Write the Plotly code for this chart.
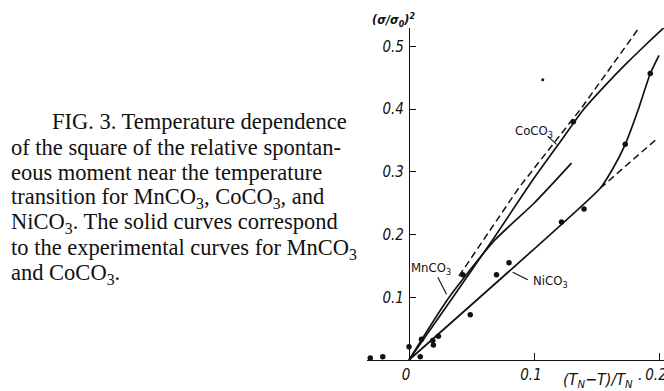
import plotly.graph_objects as go

# ---------------- data ----------------
mn_x = [0.0, 0.031, 0.068, 0.100, 0.130]
mn_y = [0.0, 0.097, 0.190, 0.250, 0.314]

co_x = [0.0, 0.034, 0.067, 0.099, 0.121, 0.139, 0.157, 0.174, 0.190, 0.205]
co_y = [0.0, 0.097, 0.192, 0.287, 0.348, 0.398, 0.438, 0.473, 0.504, 0.532]

co_dash_x = [0.040, 0.088, 0.138, 0.183]
co_dash_y = [0.134, 0.275, 0.402, 0.527]

ni_x = [0.0, 0.153, 0.163, 0.173, 0.183, 0.193, 0.200]
ni_y = [0.0, 0.274, 0.305, 0.344, 0.397, 0.457, 0.486]

ni_dash_x = [0.153, 0.199]
ni_dash_y = [0.274, 0.354]

pts_x = [-0.031, -0.021, 0.0, 0.009, 0.010, 0.019, 0.0195, 0.0235, 0.043, 0.049,
         0.070, 0.080, 0.122, 0.140, 0.1315, 0.173, 0.193]
pts_y = [0.003, 0.005, 0.021, 0.005, 0.033, 0.031, 0.024, 0.038, 0.136, 0.072,
         0.136, 0.155, 0.220, 0.241, 0.380, 0.344, 0.457]

speck_x = [0.107]
speck_y = [0.447]

x_ticks = [0, 0.1, 0.2]
x_ticktext = ["0", "0.1", "0.2"]
y_ticks = [0.1, 0.2, 0.3, 0.4, 0.5]
y_ticktext = ["0.1", "0.2", "0.3", "0.4", "0.5"]

caption = [
    "FIG. 3. Temperature dependence",
    "of the square of the relative spontan-",
    "eous moment near the temperature",
    "transition for MnCO<sub>3</sub>, CoCO<sub>3</sub>, and",
    "NiCO<sub>3</sub>. The solid curves correspond",
    "to the experimental curves for MnCO<sub>3</sub>",
    "and CoCO<sub>3</sub>.",
]

# ---------------- layout geometry ----------------
W, H = 664, 391
L, R, T, B = 367, 0, 28, 31
PW, PH = W - L - R, H - T - B
X0, X1 = -0.0336, 0.204
Y0, Y1 = 0.0, 0.5295


def px(xp):
    return (xp - L) / PW


def py(yp):
    return (H - B - yp) / PH


BLACK = "#111111"
LBL_FONT = "Liberation Sans Narrow, DejaVu Sans Condensed, Arial Narrow, Liberation Sans, sans-serif"

fig = go.Figure()

solid = dict(color=BLACK, width=1.7)
dashed = dict(color=BLACK, width=1.5, dash="7px,4px")

fig.add_trace(go.Scatter(x=mn_x, y=mn_y, mode="lines", line=dict(**solid, shape="spline", smoothing=0.6)))
fig.add_trace(go.Scatter(x=co_x, y=co_y, mode="lines", line=dict(**solid, shape="spline", smoothing=0.6)))
fig.add_trace(go.Scatter(x=co_dash_x, y=co_dash_y, mode="lines", line=dashed))
fig.add_trace(go.Scatter(x=ni_x, y=ni_y, mode="lines", line=dict(**solid, shape="spline", smoothing=0.4)))
fig.add_trace(go.Scatter(x=ni_dash_x, y=ni_dash_y, mode="lines", line=dashed))
fig.add_trace(go.Scatter(x=pts_x, y=pts_y, mode="markers",
                         marker=dict(color=BLACK, size=5.5, line=dict(width=0)), cliponaxis=False))
fig.add_trace(go.Scatter(x=speck_x, y=speck_y, mode="markers",
                         marker=dict(color=BLACK, size=3, line=dict(width=0))))

# leader lines for labels
leaders = [
    ((0.023, 0.132), (0.030, 0.105)),   # MnCO3
    ((0.111, 0.357), (0.118, 0.344)),   # CoCO3
    ((0.083, 0.140), (0.095, 0.128)),   # NiCO3
]
for (xa, ya), (xb, yb) in leaders:
    fig.add_shape(type="line", x0=xa, y0=ya, x1=xb, y1=yb, xref="x", yref="y",
                  line=dict(color=BLACK, width=1.1))

annotations = []
# series labels
for text, xp, yp in [("MnCO<sub>3</sub>", 431, 268), ("CoCO<sub>3</sub>", 534, 131),
                     ("NiCO<sub>3</sub>", 550, 281)]:
    annotations.append(dict(x=px(xp), y=py(yp), xref="paper", yref="paper", text=text,
                            showarrow=False, xanchor="center", yanchor="middle",
                            font=dict(family=LBL_FONT, size=13, color=BLACK)))

# axis titles
annotations.append(dict(x=px(393), y=py(20), xref="paper", yref="paper",
                        text="(σ/σ<sub>0</sub>)<sup>2</sup>", showarrow=False,
                        xanchor="center", yanchor="middle",
                        font=dict(family=LBL_FONT, size=12.5, color=BLACK, style="italic", weight="bold")))
annotations.append(dict(x=px(602), y=py(381), xref="paper", yref="paper",
                        text="(T<sub>N</sub>−T)/T<sub>N</sub> ·", showarrow=False,
                        xanchor="center", yanchor="middle",
                        font=dict(family=LBL_FONT, size=16, color=BLACK, style="italic")))

# caption
cap_y = [122, 147.5, 172.5, 197.5, 223, 248.5, 274]
for i, line in enumerate(caption):
    annotations.append(dict(x=px(50 if i == 0 else 9), y=py(cap_y[i]), xref="paper", yref="paper",
                            text=line, showarrow=False, xanchor="left", yanchor="middle",
                            font=dict(family="Liberation Serif, Times New Roman, serif",
                                      size=22.5, color=BLACK)))

fig.update_layout(
    width=W, height=H,
    margin=dict(l=L, r=R, t=T, b=B, pad=0),
    paper_bgcolor="white", plot_bgcolor="white",
    showlegend=False,
    annotations=annotations,
    xaxis=dict(range=[X0, X1], tickvals=x_ticks, ticktext=x_ticktext,
               ticks="inside", ticklen=7, tickwidth=1.2, tickcolor=BLACK,
               showline=True, linewidth=1.3, linecolor=BLACK, mirror=False,
               showgrid=False, zeroline=False, automargin=False,
               ticklabeloverflow="allow", ticklabelshift=-3,
               tickfont=dict(family=LBL_FONT, size=15, color=BLACK, style="italic"),
               ticklabelstandoff=1),
    yaxis=dict(range=[Y0, Y1], tickvals=y_ticks, ticktext=y_ticktext,
               anchor="free", position=(409 - L) / PW,
               ticks="inside", ticklen=6, tickwidth=1.2, tickcolor=BLACK,
               showline=True, linewidth=1.3, linecolor=BLACK,
               showgrid=False, zeroline=False, automargin=False,
               tickfont=dict(family=LBL_FONT, size=15, color=BLACK, style="italic"),
               ticklabelstandoff=2),
)

fig.write_html("out.html")
